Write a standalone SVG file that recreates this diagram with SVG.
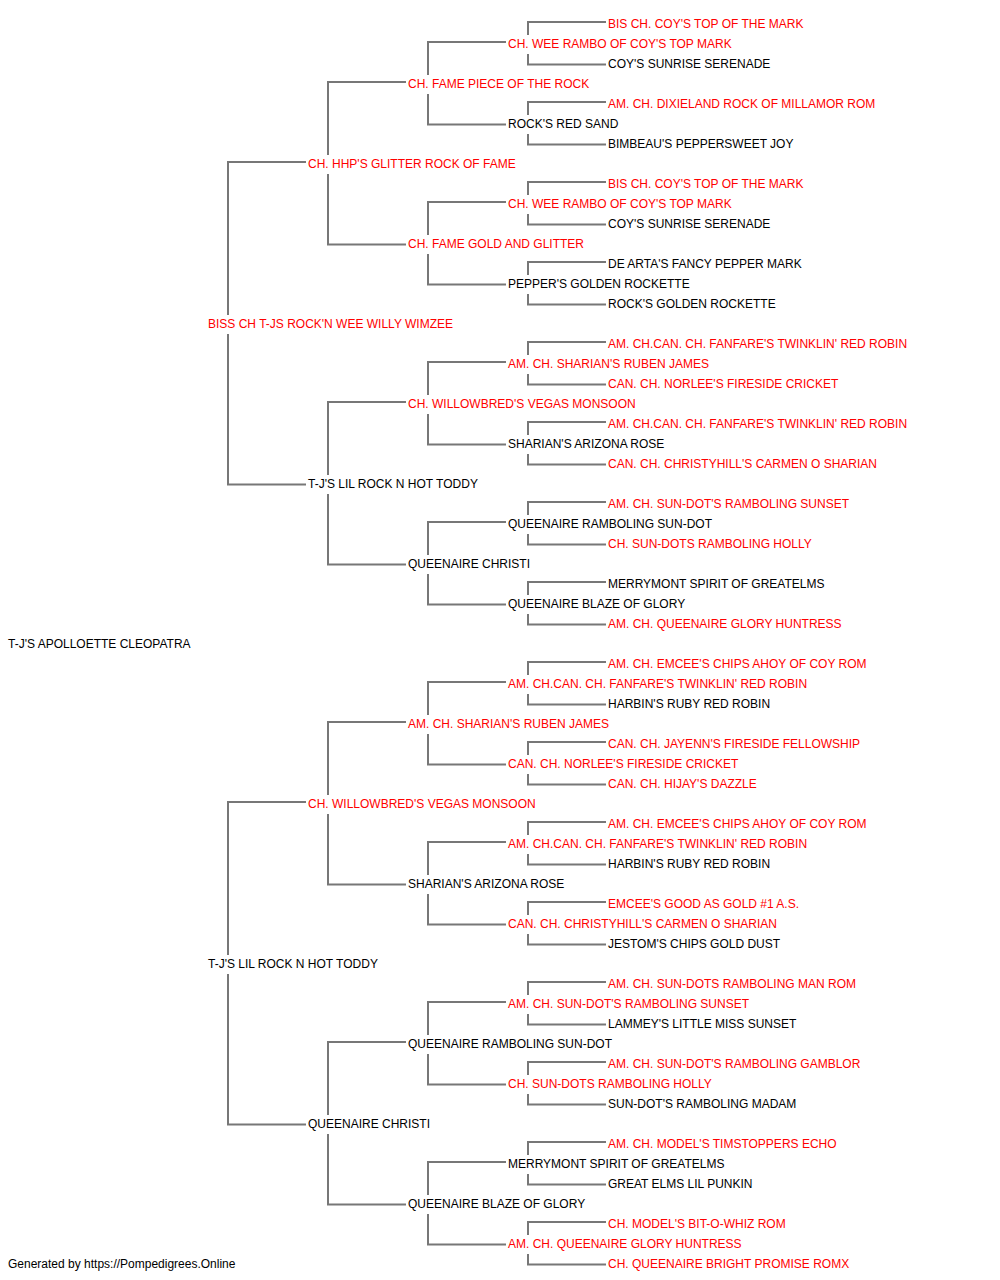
<svg xmlns="http://www.w3.org/2000/svg" width="1000" height="1280" viewBox="0 0 1000 1280">
<style>
text{font-family:"Liberation Sans",Arial,sans-serif;font-size:12px}
.r{fill:#ff0000}
.b{fill:#000000}
.c path{fill:none;stroke:#777777;stroke-width:2}
</style>
<rect width="1000" height="1280" fill="#ffffff"/>
<g class="c" id="connectors">
<path d="M306 162H228V315M228 334V484.5H306"/>
<path d="M306 802H228V955M228 974V1124.5H306"/>
<path d="M406 82H328V155M328 174V244.5H406"/>
<path d="M406 402H328V475M328 494V564.5H406"/>
<path d="M406 722H328V795M328 814V884.5H406"/>
<path d="M406 1042H328V1115M328 1134V1204.5H406"/>
<path d="M506 42H428V75M428 94V124.5H506"/>
<path d="M506 202H428V235M428 254V284.5H506"/>
<path d="M506 362H428V395M428 414V444.5H506"/>
<path d="M506 522H428V555M428 574V604.5H506"/>
<path d="M506 682H428V715M428 734V764.5H506"/>
<path d="M506 842H428V875M428 894V924.5H506"/>
<path d="M506 1002H428V1035M428 1054V1084.5H506"/>
<path d="M506 1162H428V1195M428 1214V1244.5H506"/>
<path d="M606 22H528V35M528 54V64.5H606"/>
<path d="M606 102H528V115M528 134V144.5H606"/>
<path d="M606 182H528V195M528 214V224.5H606"/>
<path d="M606 262H528V275M528 294V304.5H606"/>
<path d="M606 342H528V355M528 374V384.5H606"/>
<path d="M606 422H528V435M528 454V464.5H606"/>
<path d="M606 502H528V515M528 534V544.5H606"/>
<path d="M606 582H528V595M528 614V624.5H606"/>
<path d="M606 662H528V675M528 694V704.5H606"/>
<path d="M606 742H528V755M528 774V784.5H606"/>
<path d="M606 822H528V835M528 854V864.5H606"/>
<path d="M606 902H528V915M528 934V944.5H606"/>
<path d="M606 982H528V995M528 1014V1024.5H606"/>
<path d="M606 1062H528V1075M528 1094V1104.5H606"/>
<path d="M606 1142H528V1155M528 1174V1184.5H606"/>
<path d="M606 1222H528V1235M528 1254V1264.5H606"/>
</g>
<g id="n0"><text class="r" x="608" y="27.5">BIS CH. COY'S TOP OF THE MARK</text></g>
<g id="n1"><text class="r" x="508" y="47.5">CH. WEE RAMBO OF COY'S TOP MARK</text></g>
<g id="n2"><text class="b" x="608" y="67.5">COY'S SUNRISE SERENADE</text></g>
<g id="n3"><text class="r" x="408" y="87.5">CH. FAME PIECE OF THE ROCK</text></g>
<g id="n4"><text class="r" x="608" y="107.5">AM. CH. DIXIELAND ROCK OF MILLAMOR ROM</text></g>
<g id="n5"><text class="b" x="508" y="127.5">ROCK'S RED SAND</text></g>
<g id="n6"><text class="b" x="608" y="147.5">BIMBEAU'S PEPPERSWEET JOY</text></g>
<g id="n7"><text class="r" x="308" y="167.5">CH. HHP'S GLITTER ROCK OF FAME</text></g>
<g id="n8"><text class="r" x="608" y="187.5">BIS CH. COY'S TOP OF THE MARK</text></g>
<g id="n9"><text class="r" x="508" y="207.5">CH. WEE RAMBO OF COY'S TOP MARK</text></g>
<g id="n10"><text class="b" x="608" y="227.5">COY'S SUNRISE SERENADE</text></g>
<g id="n11"><text class="r" x="408" y="247.5">CH. FAME GOLD AND GLITTER</text></g>
<g id="n12"><text class="b" x="608" y="267.5">DE ARTA'S FANCY PEPPER MARK</text></g>
<g id="n13"><text class="b" x="508" y="287.5">PEPPER'S GOLDEN ROCKETTE</text></g>
<g id="n14"><text class="b" x="608" y="307.5">ROCK'S GOLDEN ROCKETTE</text></g>
<g id="n15"><text class="r" x="208" y="327.5">BISS CH T-JS ROCK'N WEE WILLY WIMZEE</text></g>
<g id="n16"><text class="r" x="608" y="347.5">AM. CH.CAN. CH. FANFARE'S TWINKLIN' RED ROBIN</text></g>
<g id="n17"><text class="r" x="508" y="367.5">AM. CH. SHARIAN'S RUBEN JAMES</text></g>
<g id="n18"><text class="r" x="608" y="387.5">CAN. CH. NORLEE'S FIRESIDE CRICKET</text></g>
<g id="n19"><text class="r" x="408" y="407.5">CH. WILLOWBRED'S VEGAS MONSOON</text></g>
<g id="n20"><text class="r" x="608" y="427.5">AM. CH.CAN. CH. FANFARE'S TWINKLIN' RED ROBIN</text></g>
<g id="n21"><text class="b" x="508" y="447.5">SHARIAN'S ARIZONA ROSE</text></g>
<g id="n22"><text class="r" x="608" y="467.5">CAN. CH. CHRISTYHILL'S CARMEN O SHARIAN</text></g>
<g id="n23"><text class="b" x="308" y="487.5">T-J'S LIL ROCK N HOT TODDY</text></g>
<g id="n24"><text class="r" x="608" y="507.5">AM. CH. SUN-DOT'S RAMBOLING SUNSET</text></g>
<g id="n25"><text class="b" x="508" y="527.5">QUEENAIRE RAMBOLING SUN-DOT</text></g>
<g id="n26"><text class="r" x="608" y="547.5">CH. SUN-DOTS RAMBOLING HOLLY</text></g>
<g id="n27"><text class="b" x="408" y="567.5">QUEENAIRE CHRISTI</text></g>
<g id="n28"><text class="b" x="608" y="587.5">MERRYMONT SPIRIT OF GREATELMS</text></g>
<g id="n29"><text class="b" x="508" y="607.5">QUEENAIRE BLAZE OF GLORY</text></g>
<g id="n30"><text class="r" x="608" y="627.5">AM. CH. QUEENAIRE GLORY HUNTRESS</text></g>
<g id="n31"><text class="b" x="8" y="647.5">T-J'S APOLLOETTE CLEOPATRA</text></g>
<g id="n32"><text class="r" x="608" y="667.5">AM. CH. EMCEE'S CHIPS AHOY OF COY ROM</text></g>
<g id="n33"><text class="r" x="508" y="687.5">AM. CH.CAN. CH. FANFARE'S TWINKLIN' RED ROBIN</text></g>
<g id="n34"><text class="b" x="608" y="707.5">HARBIN'S RUBY RED ROBIN</text></g>
<g id="n35"><text class="r" x="408" y="727.5">AM. CH. SHARIAN'S RUBEN JAMES</text></g>
<g id="n36"><text class="r" x="608" y="747.5">CAN. CH. JAYENN'S FIRESIDE FELLOWSHIP</text></g>
<g id="n37"><text class="r" x="508" y="767.5">CAN. CH. NORLEE'S FIRESIDE CRICKET</text></g>
<g id="n38"><text class="r" x="608" y="787.5">CAN. CH. HIJAY'S DAZZLE</text></g>
<g id="n39"><text class="r" x="308" y="807.5">CH. WILLOWBRED'S VEGAS MONSOON</text></g>
<g id="n40"><text class="r" x="608" y="827.5">AM. CH. EMCEE'S CHIPS AHOY OF COY ROM</text></g>
<g id="n41"><text class="r" x="508" y="847.5">AM. CH.CAN. CH. FANFARE'S TWINKLIN' RED ROBIN</text></g>
<g id="n42"><text class="b" x="608" y="867.5">HARBIN'S RUBY RED ROBIN</text></g>
<g id="n43"><text class="b" x="408" y="887.5">SHARIAN'S ARIZONA ROSE</text></g>
<g id="n44"><text class="r" x="608" y="907.5">EMCEE'S GOOD AS GOLD #1 A.S.</text></g>
<g id="n45"><text class="r" x="508" y="927.5">CAN. CH. CHRISTYHILL'S CARMEN O SHARIAN</text></g>
<g id="n46"><text class="b" x="608" y="947.5">JESTOM'S CHIPS GOLD DUST</text></g>
<g id="n47"><text class="b" x="208" y="967.5">T-J'S LIL ROCK N HOT TODDY</text></g>
<g id="n48"><text class="r" x="608" y="987.5">AM. CH. SUN-DOTS RAMBOLING MAN ROM</text></g>
<g id="n49"><text class="r" x="508" y="1007.5">AM. CH. SUN-DOT'S RAMBOLING SUNSET</text></g>
<g id="n50"><text class="b" x="608" y="1027.5">LAMMEY'S LITTLE MISS SUNSET</text></g>
<g id="n51"><text class="b" x="408" y="1047.5">QUEENAIRE RAMBOLING SUN-DOT</text></g>
<g id="n52"><text class="r" x="608" y="1067.5">AM. CH. SUN-DOT'S RAMBOLING GAMBLOR</text></g>
<g id="n53"><text class="r" x="508" y="1087.5">CH. SUN-DOTS RAMBOLING HOLLY</text></g>
<g id="n54"><text class="b" x="608" y="1107.5">SUN-DOT'S RAMBOLING MADAM</text></g>
<g id="n55"><text class="b" x="308" y="1127.5">QUEENAIRE CHRISTI</text></g>
<g id="n56"><text class="r" x="608" y="1147.5">AM. CH. MODEL'S TIMSTOPPERS ECHO</text></g>
<g id="n57"><text class="b" x="508" y="1167.5">MERRYMONT SPIRIT OF GREATELMS</text></g>
<g id="n58"><text class="b" x="608" y="1187.5">GREAT ELMS LIL PUNKIN</text></g>
<g id="n59"><text class="b" x="408" y="1207.5">QUEENAIRE BLAZE OF GLORY</text></g>
<g id="n60"><text class="r" x="608" y="1227.5">CH. MODEL'S BIT-O-WHIZ ROM</text></g>
<g id="n61"><text class="r" x="508" y="1247.5">AM. CH. QUEENAIRE GLORY HUNTRESS</text></g>
<g id="n62"><text class="r" x="608" y="1267.5">CH. QUEENAIRE BRIGHT PROMISE ROMX</text></g>
<g id="footer"><text class="b" x="8" y="1267.5">Generated by https://Pompedigrees.Online</text></g>
</svg>
